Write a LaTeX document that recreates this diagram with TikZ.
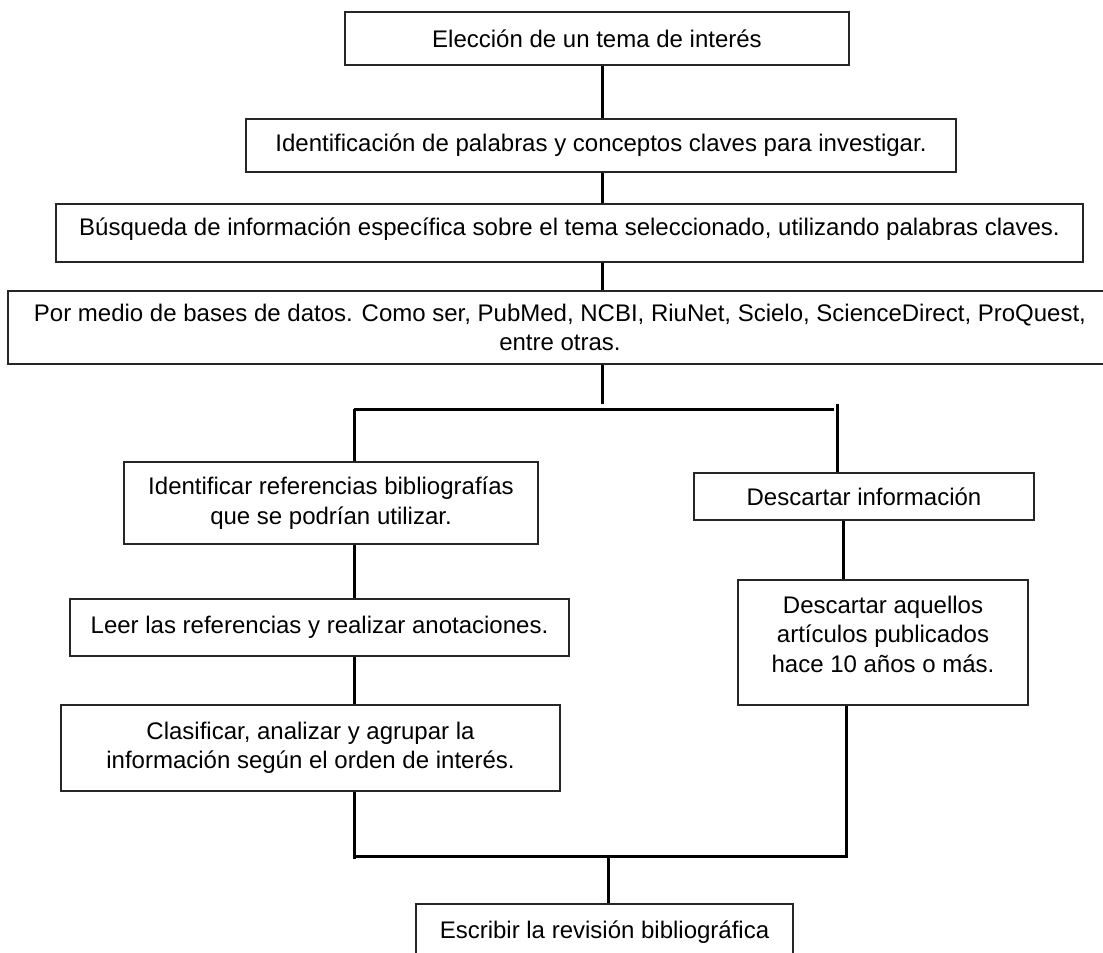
\documentclass[tikz,border=0pt]{standalone}
\usepackage{fontspec}
\setmainfont{Liberation Sans}
\begin{document}
\begin{tikzpicture}[x=1pt,y=-1pt,
  box/.style={draw=black!85,line width=1.2pt,rectangle,inner sep=0pt,align=center,
    font=\fontsize{24}{29.5}\selectfont},
  txt/.style={inner sep=0pt,align=center,font=\fontsize{24}{29.5}\selectfont},
  conn/.style={line width=3pt,black}]
\clip (0,0) rectangle (1103,953);
\useasboundingbox (0,0) rectangle (1103,953);
\fill[white] (0,0) rectangle (1103,953);

\node[box,minimum width=504pt,minimum height=53pt] (b1) at (597,38.5) {Elección de un tema de interés};
\node[box,minimum width=710pt,minimum height=53pt] (b2) at (601,145.5) {Identificación de palabras y conceptos claves para investigar.};
\node[box,minimum width=1027pt,minimum height=58pt] (b3) at (569.5,233) {};
\node[txt] (b3t) at (569.5,229) {Búsqueda de información específica sobre el tema seleccionado, utilizando palabras claves.};
\node[box,minimum width=1104pt,minimum height=73pt] (b4) at (560,327.5) {Por medio de bases de datos. Como ser, PubMed, NCBI, RiuNet, Scielo, ScienceDirect, ProQuest,\\entre otras.};
\node[box,minimum width=414pt,minimum height=82pt] (b5) at (331,503) {Identificar referencias bibliografías\\que se podrían utilizar.};
\node[box,minimum width=340pt,minimum height=47pt] (b6) at (864,496.5) {Descartar información};
\node[box,minimum width=499pt,minimum height=57pt] (b7) at (319.5,627.5) {Leer las referencias y realizar anotaciones.};
\node[box,minimum width=290pt,minimum height=125pt] (b8) at (883,642.5) {};
\node[txt] (b8t) at (883,634) {Descartar aquellos\\artículos publicados\\hace 10 años o más.};
\node[box,minimum width=499pt,minimum height=86pt] (b9) at (310.5,748) {Clasificar, analizar y agrupar la\\información según el orden de interés.};
\node[box,minimum width=377pt,minimum height=56pt] (b10) at (604.5,932) {Escribir la revisión bibliográfica};

% junction coordinates
\coordinate (m) at (602,0);
\coordinate (L) at (354,409);
\coordinate (R) at (837,409);
\coordinate (Rt) at (837,404);
\coordinate (R2) at (843,0);
\coordinate (R3) at (846,0);
\coordinate (BL) at (354,856);
\coordinate (BR) at (848,856);
\coordinate (bm) at (608,856);

\draw[conn] (b1.south -| m) -- (b2.north -| m);
\draw[conn] (b2.south -| m) -- (b3.north -| m);
\draw[conn] (b3.south -| m) -- (b4.north -| m);
\draw[conn] (b4.south -| m) -- (m |- Rt);
\draw[conn] (L) -- (834,409);
\draw[conn] (L) -- (b5.north -| L);
\draw[conn] (Rt) -- (b6.north -| Rt);
\draw[conn] (b5.south -| L) -- (b7.north -| L);
\draw[conn] (b7.south -| L) -- (b9.north -| L);
\draw[conn] (b6.south -| R2) -- (b8.north -| R2);
\draw[conn] (b9.south -| L) -- (354,859);
\draw[conn] (b8.south -| R3) -- (R3 |- BR);
\draw[conn] (BL) -- (BR);
\draw[conn] (bm) -- (b10.north -| bm);
\end{tikzpicture}
\end{document}
